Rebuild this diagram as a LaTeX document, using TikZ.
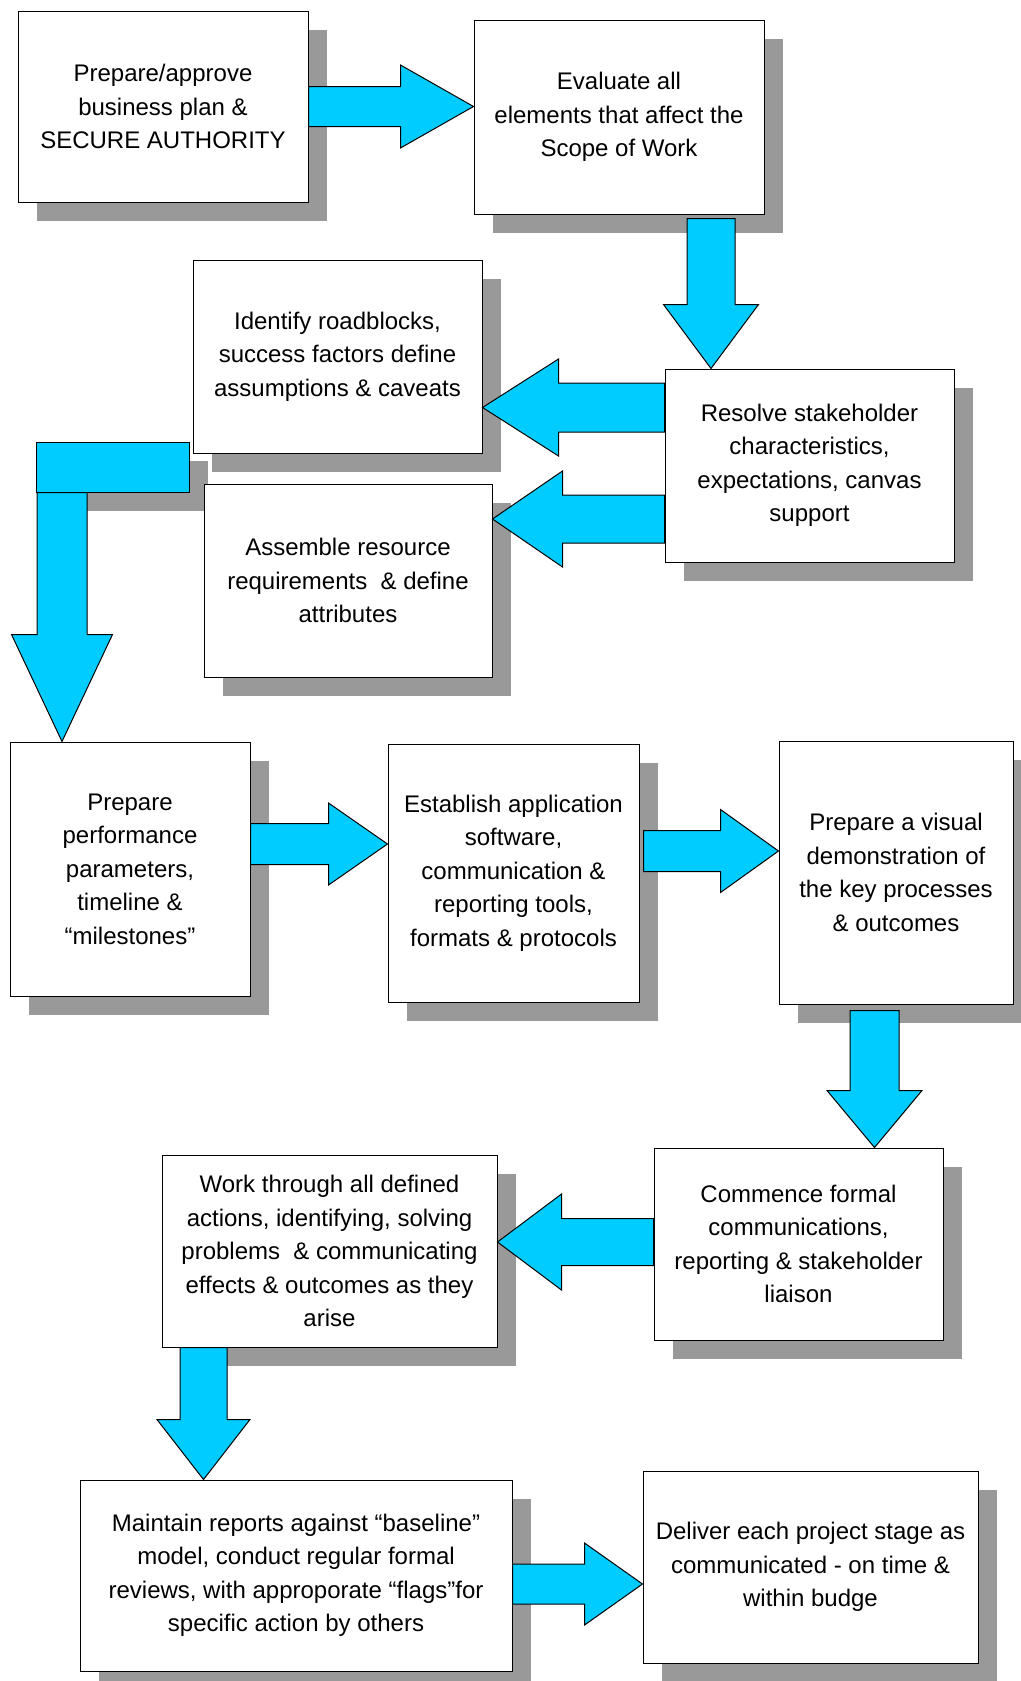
\documentclass[tikz,border=0pt]{standalone}
\usepackage{fontspec}
\setmainfont{Liberation Sans}
\usetikzlibrary{calc,shadows}
\definecolor{flowcyan}{RGB}{0,204,255}
\definecolor{shadowgray}{RGB}{153,153,153}
\tikzset{
  shadowed/.style={drop shadow={shadow xshift=19pt,shadow yshift=-19pt,fill=shadowgray,opacity=1}},
  stage/.style={draw,fill=white,line width=1pt,align=center,inner sep=2pt,
    font=\fontsize{24}{33.5}\selectfont,shadowed},
  flow/.style={draw,fill=flowcyan,line width=1pt,line join=miter},
}
% block arrow: tail, tip, half shaft, half head, head length
\newcommand{\blockarrow}[5]{%
  \coordinate (tail) at (#1);
  \coordinate (tip) at (#2);
  \coordinate (neck) at ($(tip)!#5pt!(tail)$);
  \draw[flow] ($(tail)!#3pt!90:(tip)$) -- ($(neck)!#3pt!90:(tip)$)
    -- ($(neck)!#4pt!90:(tip)$) -- (tip) -- ($(neck)!#4pt!-90:(tip)$)
    -- ($(neck)!#3pt!-90:(tip)$) -- ($(tail)!#3pt!-90:(tip)$) -- cycle;
}
\begin{document}
\begin{tikzpicture}[x=1pt,y=1pt]
  \useasboundingbox (0,0) rectangle (1020,-1681);
  % the bar that feeds the long arrow
  \node[flow,shadowed,minimum width=153pt,minimum height=50pt,inner sep=0pt] (bend) at (112.5,-467) {};
  % stages
  \node[stage,minimum width=290pt,minimum height=191pt] (plan) at (163,-106.5)
    {Prepare/approve\\business plan \&\\SECURE AUTHORITY};
  \node[stage,minimum width=290pt,minimum height=194pt] (scope) at (619,-117)
    {Evaluate all\\elements that affect the\\Scope of Work};
  \node[stage,minimum width=289pt,minimum height=193pt] (resolve) at (809.5,-465.5)
    {Resolve stakeholder\\characteristics,\\expectations, canvas\\support};
  \node[stage,minimum width=289pt,minimum height=193pt] (identify) at (337.5,-356.5)
    {Identify roadblocks,\\success factors define\\assumptions \& caveats};
  \node[stage,minimum width=288pt,minimum height=193pt] (assemble) at (348,-580.5)
    {Assemble resource\\requirements\ \ \& define\\attributes};
  \node[stage,minimum width=240pt,minimum height=254pt] (params) at (130,-869)
    {Prepare\\performance\\parameters,\\timeline \&\\“milestones”};
  \node[stage,minimum width=251pt,minimum height=258pt] (tools) at (513.5,-873)
    {Establish application\\software,\\communication \&\\reporting tools,\\formats \& protocols};
  \node[stage,minimum width=234pt,minimum height=263pt] (visual) at (896,-872.5)
    {Prepare a visual\\demonstration of\\the key processes\\\& outcomes};
  \node[stage,minimum width=289pt,minimum height=192pt] (commence) at (798.5,-1244)
    {Commence formal\\communications,\\reporting \& stakeholder\\liaison};
  \node[stage,minimum width=335pt,minimum height=192pt] (work) at (329.5,-1251)
    {Work through all defined\\actions, identifying, solving\\problems\ \ \& communicating\\effects \& outcomes as they\\arise};
  \node[stage,minimum width=432pt,minimum height=191pt] (maintain) at (296,-1575.5)
    {Maintain reports against “baseline”\\model, conduct regular formal\\reviews, with approporate “flags”for\\specific action by others};
  \node[stage,minimum width=335pt,minimum height=192pt] (deliver) at (810.5,-1567)
    {Deliver each project stage as\\communicated - on time \&\\within budge};
  % arrows between stages
  \blockarrow{plan.east}{plan.east -| scope.west}{20}{41.5}{73}
  \blockarrow{[shift={(92pt,-4pt)}]scope.south}{tail |- resolve.north}{24}{47.5}{64}
  \blockarrow{[yshift=58pt]resolve.west}{tail -| identify.east}{24.5}{48.5}{76}
  \blockarrow{[yshift=-53.5pt]resolve.west}{tail -| assemble.east}{24}{48}{70}
  \blockarrow{[xshift=-50.5pt]bend.south}{tail |- params.north}{25}{50.5}{107}
  \blockarrow{[yshift=25pt]params.east}{tail -| tools.west}{20.5}{41}{59}
  \blockarrow{[shift={(4pt,22pt)}]tools.east}{tail -| visual.west}{20.5}{41.5}{58}
  \blockarrow{[shift={(-21.5pt,-6pt)}]visual.south}{tail |- commence.north}{24.5}{47.5}{57}
  \blockarrow{[yshift=2pt]commence.west}{tail -| work.east}{23.5}{48}{64}
  \blockarrow{[xshift=-126pt]work.south}{tail |- maintain.north}{23.5}{46.5}{60}
  \blockarrow{[yshift=-8.5pt]maintain.east}{tail -| deliver.west}{20}{41}{58}
\end{tikzpicture}
\end{document}
